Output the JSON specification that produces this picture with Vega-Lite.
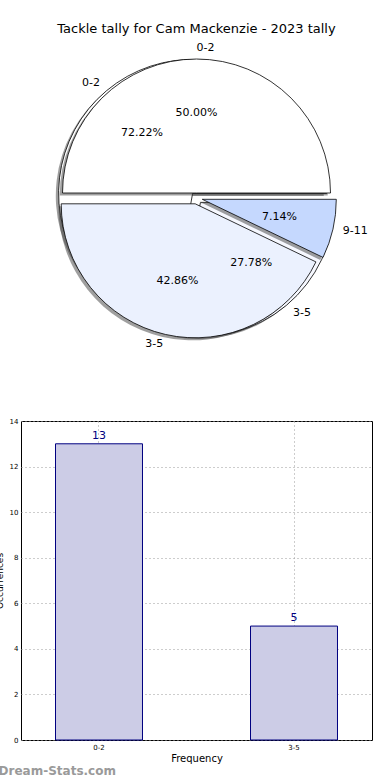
{
  "$schema": "https://vega.github.io/schema/vega-lite/v6.json",
  "padding": {"left": -6, "top": 23, "right": 0, "bottom": 0},
  "bounds": "flush",
  "spacing": 75,
  "config": {
    "font": "DejaVu Sans",
    "axis": {"labelColor": "black", "titleColor": "black", "labelFont": "DejaVu Sans", "titleFont": "DejaVu Sans"}
  },
  "title": {"text": "Dream-Stats.com", "orient": "bottom", "anchor": "start", "fontSize": 12, "fontWeight": "bold", "color": "#9a9a9a", "font": "DejaVu Sans", "offset": 2, "dx": 4},
  "datasets": {
    "pieA": [
      {"bin": "0-2", "share": 0.7222},
      {"bin": "3-5", "share": 0.2778}
    ],
    "pieB": [
      {"bin": "0-2", "share": 0.5},
      {"bin": "3-5", "share": 0.4286},
      {"bin": "9-11", "share": 0.0714}
    ],
    "bars": [
      {"bin": "0-2", "count": 13},
      {"bin": "3-5", "count": 5}
    ]
  },
  "vconcat": [
    {
      "width": 351,
      "height": 296,
      "view": {"stroke": null},
      "title": {"text": "Tackle tally for Cam Mackenzie - 2023 tally", "fontSize": 13, "fontWeight": "normal", "font": "DejaVu Sans", "anchor": "middle", "offset": 6, "color": "black"},
      "layer": [
        {
          "data": {"name": "pieA"},
          "transform": [{"stack": "share", "groupby": [], "sort": [{"field": "bin", "order": "ascending"}], "as": ["s0", "s1"], "offset": "normalize"}, {"filter": {"field": "bin", "equal": "0-2"}}],
          "mark": {"type": "arc", "radius": 134, "fill": "#404040", "opacity": 0.5, "xOffset": -6.7, "yOffset": -2.1},
          "encoding": {"theta": {"field": "s0", "type": "quantitative", "scale": {"domain": [0, 1], "range": [1.5708, -4.7124]}}, "theta2": {"field": "s1"}}
        },
        {
          "data": {"name": "pieA"},
          "transform": [{"stack": "share", "groupby": [], "sort": [{"field": "bin", "order": "ascending"}], "as": ["s0", "s1"], "offset": "normalize"}, {"filter": {"field": "bin", "equal": "3-5"}}],
          "mark": {"type": "arc", "radius": 134, "fill": "#404040", "opacity": 0.5, "xOffset": 1.1, "yOffset": 7.1},
          "encoding": {"theta": {"field": "s0", "type": "quantitative", "scale": {"domain": [0, 1], "range": [1.5708, -4.7124]}}, "theta2": {"field": "s1"}}
        },
        {
          "data": {"name": "pieA"},
          "transform": [{"stack": "share", "groupby": [], "sort": [{"field": "bin", "order": "ascending"}], "as": ["s0", "s1"], "offset": "normalize"}, {"filter": {"field": "bin", "equal": "0-2"}}],
          "mark": {"type": "arc", "radius": 134, "fill": "#ffffff", "stroke": "black", "strokeWidth": 0.8, "xOffset": -3.9, "yOffset": -4.6},
          "encoding": {"theta": {"field": "s0", "type": "quantitative", "scale": {"domain": [0, 1], "range": [1.5708, -4.7124]}}, "theta2": {"field": "s1"}}
        },
        {
          "data": {"name": "pieA"},
          "transform": [{"stack": "share", "groupby": [], "sort": [{"field": "bin", "order": "ascending"}], "as": ["s0", "s1"], "offset": "normalize"}, {"filter": {"field": "bin", "equal": "3-5"}}],
          "mark": {"type": "arc", "radius": 134, "fill": "#f6f8ff", "stroke": "black", "strokeWidth": 0.8, "xOffset": 3.9, "yOffset": 4.6},
          "encoding": {"theta": {"field": "s0", "type": "quantitative", "scale": {"domain": [0, 1], "range": [1.5708, -4.7124]}}, "theta2": {"field": "s1"}}
        },
        {
          "data": {"name": "pieB"},
          "transform": [{"stack": "share", "groupby": [], "sort": [{"field": "bin", "order": "ascending"}], "as": ["s0", "s1"], "offset": "normalize"}, {"filter": {"field": "bin", "equal": "0-2"}}],
          "mark": {"type": "arc", "radius": 134, "fill": "#404040", "opacity": 0.5, "xOffset": -2.8, "yOffset": -2.5},
          "encoding": {"theta": {"field": "s0", "type": "quantitative", "scale": {"domain": [0, 1], "range": [1.5708, -4.7124]}}, "theta2": {"field": "s1"}}
        },
        {
          "data": {"name": "pieB"},
          "transform": [{"stack": "share", "groupby": [], "sort": [{"field": "bin", "order": "ascending"}], "as": ["s0", "s1"], "offset": "normalize"}, {"filter": {"field": "bin", "equal": "3-5"}}],
          "mark": {"type": "arc", "radius": 134, "fill": "#404040", "opacity": 0.5, "xOffset": -4.1, "yOffset": 8.3},
          "encoding": {"theta": {"field": "s0", "type": "quantitative", "scale": {"domain": [0, 1], "range": [1.5708, -4.7124]}}, "theta2": {"field": "s1"}}
        },
        {
          "data": {"name": "pieB"},
          "transform": [{"stack": "share", "groupby": [], "sort": [{"field": "bin", "order": "ascending"}], "as": ["s0", "s1"], "offset": "normalize"}, {"filter": {"field": "bin", "equal": "9-11"}}],
          "mark": {"type": "arc", "radius": 134, "fill": "#404040", "opacity": 0.5, "xOffset": 3.0, "yOffset": 3.8},
          "encoding": {"theta": {"field": "s0", "type": "quantitative", "scale": {"domain": [0, 1], "range": [1.5708, -4.7124]}}, "theta2": {"field": "s1"}}
        },
        {
          "data": {"name": "pieB"},
          "transform": [{"stack": "share", "groupby": [], "sort": [{"field": "bin", "order": "ascending"}], "as": ["s0", "s1"], "offset": "normalize"}, {"filter": {"field": "bin", "equal": "0-2"}}],
          "mark": {"type": "arc", "radius": 134, "fill": "#ffffff", "stroke": "black", "strokeWidth": 0.8, "xOffset": 0, "yOffset": -5},
          "encoding": {"theta": {"field": "s0", "type": "quantitative", "scale": {"domain": [0, 1], "range": [1.5708, -4.7124]}}, "theta2": {"field": "s1"}}
        },
        {
          "data": {"name": "pieB"},
          "transform": [{"stack": "share", "groupby": [], "sort": [{"field": "bin", "order": "ascending"}], "as": ["s0", "s1"], "offset": "normalize"}, {"filter": {"field": "bin", "equal": "3-5"}}],
          "mark": {"type": "arc", "radius": 134, "fill": "#ebf1fe", "stroke": "black", "strokeWidth": 0.8, "xOffset": -1.3, "yOffset": 5.8},
          "encoding": {"theta": {"field": "s0", "type": "quantitative", "scale": {"domain": [0, 1], "range": [1.5708, -4.7124]}}, "theta2": {"field": "s1"}}
        },
        {
          "data": {"name": "pieB"},
          "transform": [{"stack": "share", "groupby": [], "sort": [{"field": "bin", "order": "ascending"}], "as": ["s0", "s1"], "offset": "normalize"}, {"filter": {"field": "bin", "equal": "9-11"}}],
          "mark": {"type": "arc", "radius": 134, "fill": "#c5d8fe", "stroke": "black", "strokeWidth": 0.8, "xOffset": 5.8, "yOffset": 1.3},
          "encoding": {"theta": {"field": "s0", "type": "quantitative", "scale": {"domain": [0, 1], "range": [1.5708, -4.7124]}}, "theta2": {"field": "s1"}}
        },
        {
          "data": {"name": "pieA"},
          "mark": {"type": "text", "radius": 85, "fontSize": 11, "align": "center", "baseline": "middle", "color": "black"},
          "encoding": {
            "theta": {"field": "share", "type": "quantitative", "stack": "normalize", "scale": {"domain": [0, 1], "range": [1.5708, -4.7124]}},
            "order": {"field": "bin", "sort": "ascending"},
            "detail": {"field": "bin"},
            "text": {"field": "share", "type": "quantitative", "format": ".2%"}
          }
        },
        {
          "data": {"name": "pieA"},
          "mark": {"type": "text", "radius": 150, "fontSize": 11, "align": "right", "baseline": "middle", "color": "black"},
          "encoding": {
            "theta": {"field": "share", "type": "quantitative", "stack": "normalize", "scale": {"domain": [0, 1], "range": [1.5708, -4.7124]}},
            "order": {"field": "bin", "sort": "ascending"},
            "detail": {"field": "bin"},
            "text": {"condition": {"test": "datum.bin === '0-2'", "field": "bin", "type": "nominal"}, "value": ""}
          }
        },
        {
          "data": {"name": "pieA"},
          "mark": {"type": "text", "radius": 150, "fontSize": 11, "align": "left", "baseline": "middle", "color": "black"},
          "encoding": {
            "theta": {"field": "share", "type": "quantitative", "stack": "normalize", "scale": {"domain": [0, 1], "range": [1.5708, -4.7124]}},
            "order": {"field": "bin", "sort": "ascending"},
            "detail": {"field": "bin"},
            "text": {"condition": {"test": "datum.bin === '3-5'", "field": "bin", "type": "nominal"}, "value": ""}
          }
        },
        {
          "data": {"name": "pieB"},
          "mark": {"type": "text", "radius": 85, "fontSize": 11, "align": "center", "baseline": "middle", "color": "black"},
          "encoding": {
            "theta": {"field": "share", "type": "quantitative", "stack": "normalize", "scale": {"domain": [0, 1], "range": [1.5708, -4.7124]}},
            "order": {"field": "bin", "sort": "ascending"},
            "detail": {"field": "bin"},
            "text": {"field": "share", "type": "quantitative", "format": ".2%"}
          }
        },
        {
          "data": {"name": "pieB"},
          "mark": {"type": "text", "radius": 150, "fontSize": 11, "align": "left", "baseline": "middle", "color": "black"},
          "encoding": {
            "theta": {"field": "share", "type": "quantitative", "stack": "normalize", "scale": {"domain": [0, 1], "range": [1.5708, -4.7124]}},
            "order": {"field": "bin", "sort": "ascending"},
            "detail": {"field": "bin"},
            "text": {"condition": {"test": "datum.bin !== '3-5'", "field": "bin", "type": "nominal"}, "value": ""}
          }
        },
        {
          "data": {"name": "pieB"},
          "mark": {"type": "text", "radius": 150, "fontSize": 11, "align": "right", "baseline": "middle", "color": "black"},
          "encoding": {
            "theta": {"field": "share", "type": "quantitative", "stack": "normalize", "scale": {"domain": [0, 1], "range": [1.5708, -4.7124]}},
            "order": {"field": "bin", "sort": "ascending"},
            "detail": {"field": "bin"},
            "text": {"condition": {"test": "datum.bin === '3-5'", "field": "bin", "type": "nominal"}, "value": ""}
          }
        }
      ]
    },
    {
      "width": 351,
      "height": 319,
      "view": {"stroke": "black", "strokeWidth": 1},
      "data": {"name": "bars"},
      "encoding": {
        "x": {
          "field": "bin", "type": "nominal",
          "scale": {"paddingInner": 0.554, "paddingOuter": 0.177},
          "axis": {"title": "Frequency", "labelAngle": 0, "labelFontSize": 7, "titleFontSize": 10, "titleFontWeight": "normal", "grid": true, "bandPosition": 0.5, "gridDash": [1, 3], "gridColor": "#9a9a9a", "gridWidth": 1, "ticks": false, "domain": false, "labelPadding": 3, "titlePadding": 3}
        },
        "y": {
          "field": "count", "type": "quantitative",
          "scale": {"domain": [0, 14], "nice": false},
          "axis": {"title": "Occurrences", "values": [0, 2, 4, 6, 8, 10, 12, 14], "labelFontSize": 7, "titleFontSize": 9, "titleFontWeight": "normal", "grid": true, "gridDash": [1, 3], "gridColor": "#9a9a9a", "ticks": false, "domain": false, "labelPadding": 3, "titlePadding": 5}
        }
      },
      "layer": [
        {"mark": {"type": "bar", "fill": "#ccccE6", "stroke": "#000080", "strokeWidth": 1}},
        {"mark": {"type": "text", "dy": -8, "color": "#000080", "fontSize": 11, "baseline": "middle"}, "encoding": {"text": {"field": "count", "type": "quantitative"}}}
      ]
    }
  ]
}
